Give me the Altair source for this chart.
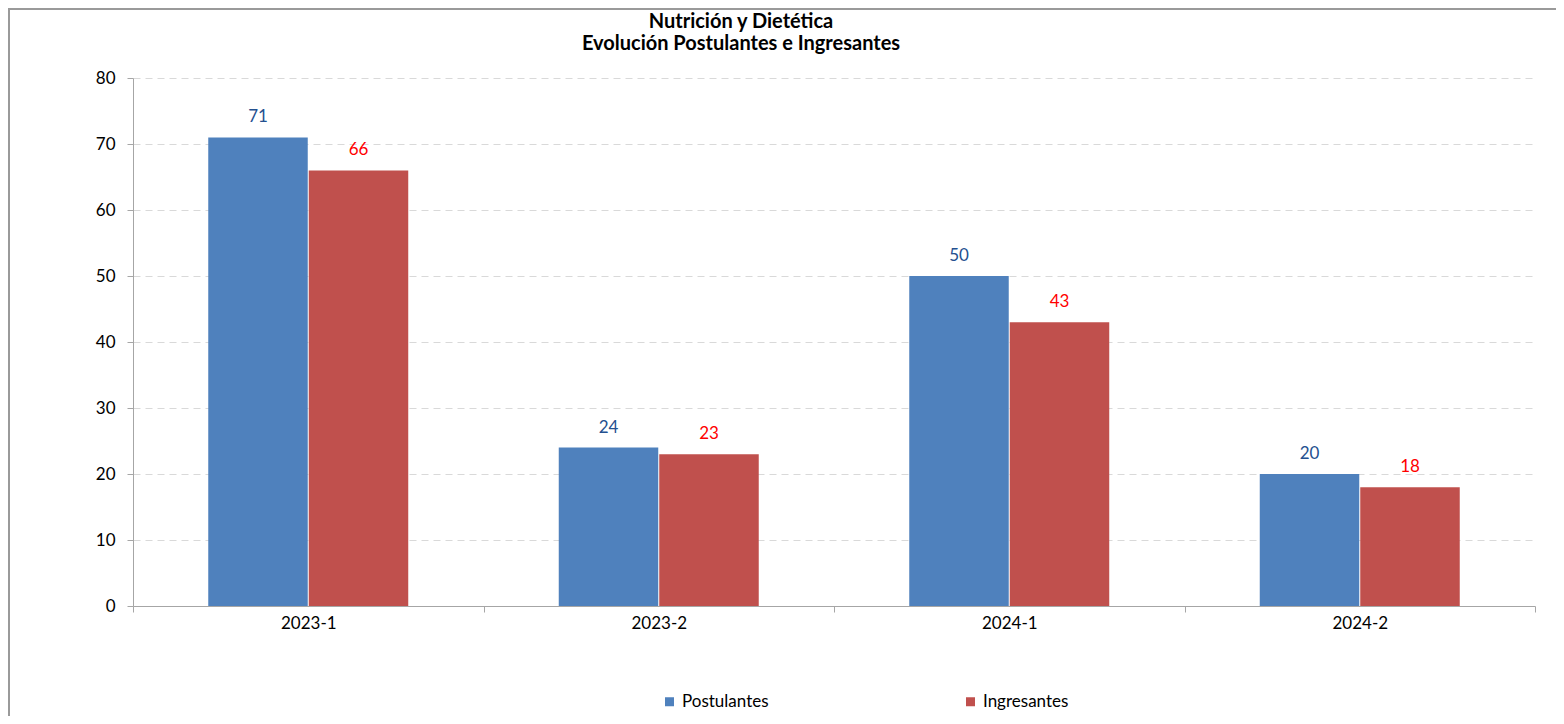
import altair as alt
import pandas as pd

periodos = ["2023-1", "2023-2", "2024-1", "2024-2"]
postulantes = [71, 24, 50, 20]
ingresantes = [66, 23, 43, 18]
series = ["Postulantes", "Ingresantes"]

rows = []
for p, a, b in zip(periodos, postulantes, ingresantes):
    rows.append({"periodo": p, "serie": "Postulantes", "valor": a})
    rows.append({"periodo": p, "serie": "Ingresantes", "valor": b})
df = pd.DataFrame(rows)

FONT = "Lato"
FS = 17

x = alt.X("periodo:N", sort=periodos, title=None,
          scale=alt.Scale(paddingInner=0, paddingOuter=0),
          axis=alt.Axis(labelAngle=0, tickBand="extent", domainColor="#a6a6a6",
                        tickColor="#a6a6a6", tickSize=6, labelPadding=3,
                        labelFontSize=FS, labelFont=FONT, labelColor="#000000",
                        grid=False))
y = alt.Y("valor:Q", title=None,
          scale=alt.Scale(domain=[0, 80], nice=False),
          axis=alt.Axis(values=list(range(0, 81, 10)), domainColor="#a6a6a6",
                        tickColor="#a6a6a6", tickSize=6, labelPadding=12,
                        labelFontSize=FS, labelFont=FONT, labelColor="#000000",
                        gridColor="#d9d9d9", gridDash=[7, 5], gridWidth=1))
xo = alt.XOffset("serie:N", sort=series,
                 scale=alt.Scale(paddingInner=0.01, paddingOuter=0.7488))

base = alt.Chart(df)

bars = base.mark_bar().encode(
    x=x, y=y, xOffset=xo,
    color=alt.Color("serie:N", sort=series,
                    scale=alt.Scale(domain=series, range=["#4F81BD", "#C0504D"]),
                    legend=alt.Legend(title=None, orient="none", direction="horizontal",
                                      legendX=528, legendY=615, symbolType="square",
                                      symbolSize=81, symbolStrokeWidth=0,
                                      labelFontSize=FS, labelFont=FONT,
                                      labelColor="#000000", columnPadding=193,
                                      labelOffset=4)),
)

lab_p = base.transform_filter(alt.datum.serie == "Postulantes").mark_text(
    baseline="bottom", dy=-11, fontSize=FS, font=FONT, color="#24508F"
).encode(x=x, y=y, xOffset=xo, text="valor:Q")

lab_i = base.transform_filter(alt.datum.serie == "Ingresantes").mark_text(
    baseline="bottom", dy=-11, fontSize=FS, font=FONT, color="#FF0000"
).encode(x=x, y=y, xOffset=xo, text="valor:Q")

border = alt.Chart(pd.DataFrame({"a": [0]})).mark_rect(
    fill=None, stroke="#9a9a9a", strokeWidth=2
).encode(x=alt.value(-124), x2=alt.value(1500), y=alt.value(-69), y2=alt.value(700))

chart = alt.layer(border, bars, lab_p, lab_i).properties(
    width=1402, height=528,
    padding={"left": 125, "top": 70, "right": 21, "bottom": 110},
    autosize=alt.AutoSizeParams(type="none"),
    title=alt.TitleParams(
        text=["Nutrición y Dietética", "Evolución Postulantes e Ingresantes"],
        anchor="middle", dx=-93, offset=-46, fontSize=20, font=FONT,
        fontWeight="bold", lineHeight=22, color="#000000"),
).configure_view(stroke=None)

chart.save("out.html", embed_options={"renderer": "svg", "actions": False})
